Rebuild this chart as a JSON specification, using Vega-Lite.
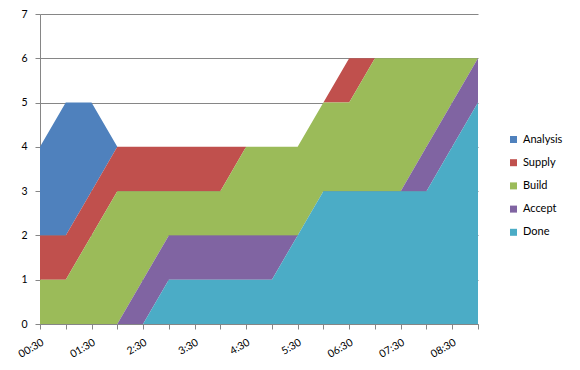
{
  "$schema": "https://vega.github.io/schema/vega-lite/v6.json",
  "width": 438,
  "height": 310,
  "autosize": {"type": "none"},
  "padding": {"left": 40, "top": 14, "right": 102, "bottom": 46},
  "background": "white",
  "data": {
    "values": [
      {"t": "00:30", "Analysis": 2, "Supply": 1, "Build": 1, "Accept": 0, "Done": 0},
      {"t": "01:00", "Analysis": 3, "Supply": 1, "Build": 1, "Accept": 0, "Done": 0},
      {"t": "01:30", "Analysis": 2, "Supply": 1, "Build": 2, "Accept": 0, "Done": 0},
      {"t": "02:00", "Analysis": 0, "Supply": 1, "Build": 3, "Accept": 0, "Done": 0},
      {"t": "2:30", "Analysis": 0, "Supply": 1, "Build": 2, "Accept": 1, "Done": 0},
      {"t": "3:00", "Analysis": 0, "Supply": 1, "Build": 1, "Accept": 1, "Done": 1},
      {"t": "3:30", "Analysis": 0, "Supply": 1, "Build": 1, "Accept": 1, "Done": 1},
      {"t": "4:00", "Analysis": 0, "Supply": 1, "Build": 1, "Accept": 1, "Done": 1},
      {"t": "4:30", "Analysis": 0, "Supply": 0, "Build": 2, "Accept": 1, "Done": 1},
      {"t": "5:00", "Analysis": 0, "Supply": 0, "Build": 2, "Accept": 1, "Done": 1},
      {"t": "5:30", "Analysis": 0, "Supply": 0, "Build": 2, "Accept": 0, "Done": 2},
      {"t": "6:00", "Analysis": 0, "Supply": 0, "Build": 2, "Accept": 0, "Done": 3},
      {"t": "06:30", "Analysis": 0, "Supply": 1, "Build": 2, "Accept": 0, "Done": 3},
      {"t": "07:00", "Analysis": 0, "Supply": 0, "Build": 3, "Accept": 0, "Done": 3},
      {"t": "07:30", "Analysis": 0, "Supply": 0, "Build": 3, "Accept": 0, "Done": 3},
      {"t": "08:00", "Analysis": 0, "Supply": 0, "Build": 2, "Accept": 1, "Done": 3},
      {"t": "08:30", "Analysis": 0, "Supply": 0, "Build": 1, "Accept": 1, "Done": 4},
      {"t": "09:00", "Analysis": 0, "Supply": 0, "Build": 0, "Accept": 1, "Done": 5}
    ]
  },
  "transform": [
    {"fold": ["Analysis", "Supply", "Build", "Accept", "Done"], "as": ["series", "count"]},
    {"calculate": "indexof(['Done','Accept','Build','Supply','Analysis'], datum.series)", "as": "stackOrder"}
  ],
  "mark": {"type": "area", "interpolate": "linear"},
  "encoding": {
    "x": {
      "field": "t",
      "type": "ordinal",
      "sort": null,
      "scale": {"type": "point", "padding": 0},
      "axis": {
        "title": null,
        "labelExpr": "test(/:30$/, datum.value) ? datum.value : ''",
        "labelAngle": -30,
        "labelFont": "Lato",
        "labelFontSize": 10.5,
        "labelColor": "#000000",
        "domainColor": "#868686",
        "tickColor": "#868686",
        "tickSize": 5,
        "labelPadding": 8,
        "grid": false
      }
    },
    "y": {
      "field": "count",
      "type": "quantitative",
      "stack": "zero",
      "scale": {"domain": [0, 7], "nice": false},
      "axis": {
        "title": null,
        "values": [0, 1, 2, 3, 4, 5, 6, 7],
        "labelFont": "Lato",
        "labelFontSize": 10.5,
        "labelColor": "#000000",
        "domainColor": "#868686",
        "tickColor": "#868686",
        "tickSize": 5,
        "labelPadding": 8,
        "grid": true,
        "gridColor": "#868686",
        "gridWidth": 1
      }
    },
    "color": {
      "field": "series",
      "type": "nominal",
      "scale": {
        "domain": ["Analysis", "Supply", "Build", "Accept", "Done"],
        "range": ["#4F81BD", "#C0504D", "#9BBB59", "#8064A2", "#4BACC6"]
      },
      "legend": {
        "title": null,
        "orient": "none",
        "legendX": 468,
        "legendY": 120,
        "symbolType": "square",
        "symbolSize": 49,
        "symbolStrokeWidth": 0,
        "labelFont": "Lato",
        "labelFontSize": 11,
        "labelColor": "#000000",
        "rowPadding": 11.2,
        "labelOffset": 4
      }
    },
    "order": {"field": "stackOrder", "type": "quantitative", "sort": "ascending"}
  },
  "config": {
    "view": {"stroke": null}
  }
}
